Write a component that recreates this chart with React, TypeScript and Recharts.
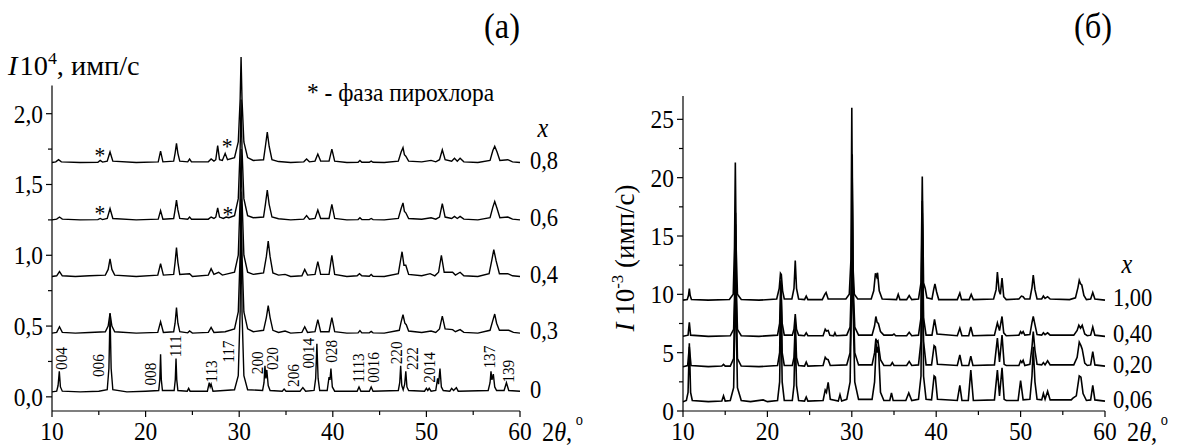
import React from "react";
import { ComposedChart, Line, Scatter, XAxis, YAxis, ReferenceLine } from "recharts";

const FONT = '"Liberation Serif", "DejaVu Serif", "Times New Roman", serif';
const SX = 0.9;

type P = [number, number];
const pts = (a: P[]) => a.map(([x, y]) => ({ x, y }));

// ---- panel (a): I·10^4, counts/s, patterns shifted up
const a0: P[] = [
  [10, 0.035], [10.5, 0.04], [10.65, 0.08], [10.78, 0.18], [10.9, 0.07], [11.1, 0.04], [13, 0.035], [15, 0.04],
  [15.9, 0.05], [16.08, 0.2], [16.2, 0.59], [16.32, 0.2], [16.5, 0.05], [18, 0.035], [20, 0.04],
  [21.4, 0.045], [21.52, 0.12], [21.6, 0.3], [21.68, 0.12], [21.8, 0.045],
  [23.05, 0.045], [23.17, 0.12], [23.25, 0.27], [23.33, 0.12], [23.45, 0.045],
  [24.45, 0.04], [24.6, 0.06], [24.75, 0.04], [26.6, 0.04], [26.8, 0.1], [26.9, 0.07], [27.0, 0.09], [27.2, 0.04],
  [29.5, 0.05], [29.9, 0.15], [30.1, 0.6], [30.2, 1.45], [30.3, 0.6], [30.5, 0.15], [30.9, 0.05],
  [32.5, 0.045], [32.65, 0.1], [32.75, 0.22], [32.85, 0.13], [32.95, 0.19], [33.1, 0.08], [33.3, 0.045],
  [34.6, 0.04], [34.8, 0.055], [35, 0.04], [36.5, 0.04], [36.8, 0.065], [37.1, 0.04],
  [38.0, 0.045], [38.17, 0.13], [38.3, 0.375], [38.43, 0.13], [38.6, 0.045],
  [39.4, 0.045], [39.6, 0.14], [39.7, 0.12], [39.8, 0.2], [39.95, 0.07], [40.2, 0.04],
  [42.6, 0.04], [42.8, 0.07], [43.0, 0.04], [43.9, 0.04], [44.1, 0.07], [44.3, 0.04],
  [47.0, 0.045], [47.15, 0.1], [47.25, 0.22], [47.37, 0.08], [47.52, 0.05], [47.68, 0.09], [47.8, 0.18], [47.92, 0.07], [48.1, 0.045],
  [49.8, 0.04], [50.0, 0.06], [50.15, 0.045], [50.3, 0.06], [50.5, 0.04],
  [51.0, 0.045], [51.2, 0.13], [51.3, 0.09], [51.45, 0.2], [51.6, 0.07], [51.8, 0.045],
  [52.5, 0.04], [52.7, 0.06], [52.9, 0.045], [53.2, 0.065], [53.4, 0.04],
  [56.6, 0.045], [56.8, 0.1], [56.9, 0.18], [57.0, 0.12], [57.15, 0.16], [57.3, 0.07], [57.5, 0.045],
  [58.3, 0.045], [58.55, 0.1], [58.8, 0.045], [60, 0.04],
];
const a03: P[] = [
  [10, 0.45], [10.5, 0.455], [10.8, 0.495], [11.1, 0.455], [12.5, 0.45], [14, 0.455], [15.7, 0.46], [16.0, 0.5], [16.2, 0.59], [16.4, 0.5], [16.7, 0.46],
  [19, 0.45], [21.3, 0.455], [21.6, 0.53], [21.9, 0.455], [23.0, 0.46], [23.15, 0.52], [23.3, 0.63], [23.45, 0.52], [23.65, 0.46],
  [24.5, 0.452], [24.7, 0.465], [25.0, 0.45], [26.7, 0.455], [27.0, 0.49], [27.3, 0.455],
  [28.5, 0.46], [29.5, 0.48], [29.9, 0.6], [30.1, 1.0], [30.2, 1.4], [30.3, 1.0], [30.5, 0.6], [30.9, 0.48], [31.5, 0.46],
  [32.6, 0.47], [32.9, 0.56], [33.1, 0.645], [33.3, 0.56], [33.6, 0.47], [34.2, 0.455], [34.9, 0.465], [35.5, 0.45],
  [36.7, 0.455], [37.0, 0.495], [37.3, 0.455], [38.1, 0.46], [38.4, 0.545], [38.7, 0.46], [39.6, 0.46], [39.9, 0.56], [40.2, 0.46],
  [41.5, 0.45], [42.7, 0.452], [42.9, 0.468], [43.1, 0.452], [43.9, 0.452], [44.1, 0.462], [44.3, 0.452], [45.5, 0.45],
  [47.1, 0.47], [47.3, 0.53], [47.5, 0.58], [47.7, 0.52], [47.85, 0.51], [48.1, 0.465], [49.5, 0.455], [50.5, 0.465], [51.0, 0.455],
  [51.4, 0.48], [51.7, 0.57], [52.0, 0.48], [52.8, 0.475], [53.1, 0.46], [53.6, 0.475], [54.0, 0.455], [55.5, 0.45],
  [56.8, 0.47], [57.1, 0.54], [57.3, 0.585], [57.5, 0.52], [57.8, 0.47], [58.8, 0.47], [59.3, 0.455], [60, 0.45],
];
const a04: P[] = [
  [10, 0.85], [10.5, 0.855], [10.8, 0.885], [11.1, 0.855], [12.5, 0.85], [14, 0.855], [15.7, 0.86], [16.0, 0.9], [16.2, 0.975], [16.4, 0.9], [16.7, 0.86],
  [19, 0.85], [21.3, 0.86], [21.6, 0.94], [21.9, 0.86], [23.0, 0.865], [23.15, 0.95], [23.3, 1.055], [23.45, 0.95], [23.65, 0.865],
  [24.7, 0.87], [25.0, 0.85], [26.7, 0.86], [27.0, 0.905], [27.3, 0.865], [27.8, 0.88], [28.2, 0.86],
  [29.5, 0.88], [29.9, 1.0], [30.1, 1.4], [30.2, 1.75], [30.3, 1.4], [30.5, 1.0], [30.9, 0.88], [31.5, 0.865],
  [32.6, 0.875], [32.9, 0.99], [33.1, 1.1], [33.3, 0.99], [33.6, 0.875], [34.2, 0.86], [34.9, 0.865], [35.5, 0.85],
  [36.7, 0.855], [37.0, 0.9], [37.3, 0.86], [38.1, 0.865], [38.4, 0.955], [38.7, 0.865], [39.6, 0.865], [39.9, 1.0], [40.2, 0.865],
  [41.5, 0.85], [42.6, 0.855], [42.85, 0.87], [43.1, 0.855], [43.9, 0.852], [44.1, 0.865], [44.3, 0.852], [45.5, 0.85],
  [47.0, 0.87], [47.2, 0.95], [47.4, 1.025], [47.6, 0.93], [47.8, 0.93], [48.1, 0.865], [49.5, 0.855], [50.4, 0.87], [50.9, 0.855],
  [51.3, 0.88], [51.6, 1.0], [51.9, 0.88], [52.8, 0.88], [53.1, 0.86], [53.6, 0.88], [54.0, 0.855], [55.5, 0.85],
  [56.7, 0.87], [57.0, 0.97], [57.2, 1.04], [57.45, 0.96], [57.8, 0.87], [58.7, 0.87], [59.2, 0.855], [60, 0.85],
];
const a06: P[] = [
  [10, 1.25], [10.5, 1.255], [10.8, 1.27], [11.1, 1.255], [13, 1.25], [14.9, 1.252], [15.15, 1.26], [15.4, 1.252], [15.9, 1.26], [16.2, 1.33], [16.5, 1.26],
  [19, 1.25], [21.35, 1.255], [21.6, 1.315], [21.85, 1.255], [23.0, 1.26], [23.15, 1.32], [23.3, 1.39], [23.45, 1.32], [23.65, 1.26],
  [24.5, 1.255], [24.7, 1.27], [24.9, 1.255], [26.7, 1.255], [27.0, 1.27], [27.3, 1.26], [27.5, 1.27], [27.7, 1.335], [27.9, 1.27],
  [28.3, 1.26], [28.6, 1.27], [28.9, 1.265], [29.5, 1.28], [29.9, 1.4], [30.1, 1.75], [30.2, 2.1], [30.3, 1.75], [30.5, 1.4], [30.9, 1.28], [31.5, 1.265],
  [32.6, 1.27], [32.8, 1.36], [33.0, 1.46], [33.2, 1.36], [33.5, 1.27], [34.2, 1.258], [35.5, 1.25],
  [36.9, 1.255], [37.2, 1.28], [37.5, 1.255], [38.1, 1.26], [38.4, 1.32], [38.7, 1.26], [39.6, 1.26], [39.9, 1.36], [40.2, 1.26],
  [41.5, 1.25], [42.7, 1.252], [42.9, 1.265], [43.1, 1.252], [43.9, 1.252], [44.1, 1.26], [44.3, 1.252], [45.5, 1.25],
  [47.0, 1.26], [47.3, 1.33], [47.5, 1.37], [47.65, 1.31], [47.8, 1.3], [48.1, 1.26], [49.5, 1.255], [50.5, 1.265], [51.0, 1.255],
  [51.4, 1.27], [51.7, 1.365], [52.0, 1.27], [52.7, 1.26], [53.0, 1.275], [53.3, 1.26], [53.6, 1.275], [54.0, 1.255], [55.5, 1.25],
  [56.8, 1.265], [57.1, 1.34], [57.3, 1.38], [57.55, 1.33], [57.85, 1.265], [58.7, 1.27], [59.2, 1.255], [60, 1.25],
];
const a08: P[] = [
  [10, 1.655], [10.4, 1.66], [10.7, 1.675], [11.0, 1.66], [13, 1.655], [14.9, 1.657], [15.15, 1.67], [15.4, 1.658], [15.9, 1.665], [16.2, 1.73], [16.5, 1.665],
  [19, 1.655], [21.35, 1.66], [21.6, 1.735], [21.85, 1.66], [23.0, 1.665], [23.15, 1.72], [23.3, 1.79], [23.45, 1.72], [23.65, 1.665],
  [24.5, 1.66], [24.7, 1.68], [24.9, 1.66], [26.7, 1.66], [27.0, 1.68], [27.3, 1.665], [27.5, 1.675], [27.7, 1.775], [27.9, 1.675],
  [28.2, 1.67], [28.5, 1.72], [28.75, 1.675], [29.5, 1.69], [29.9, 1.8], [30.1, 2.1], [30.2, 2.4], [30.3, 2.1], [30.5, 1.8], [30.9, 1.69], [31.5, 1.67],
  [32.6, 1.675], [32.8, 1.77], [33.0, 1.87], [33.2, 1.77], [33.5, 1.675], [34.2, 1.662], [35.5, 1.655],
  [36.9, 1.66], [37.2, 1.68], [37.5, 1.66], [38.1, 1.665], [38.4, 1.715], [38.7, 1.665], [39.6, 1.665], [39.9, 1.75], [40.2, 1.665],
  [41.5, 1.655], [42.7, 1.657], [42.9, 1.67], [43.1, 1.657], [43.9, 1.657], [44.1, 1.665], [44.3, 1.657], [45.5, 1.655],
  [47.0, 1.665], [47.3, 1.73], [47.5, 1.76], [47.65, 1.71], [47.8, 1.7], [48.1, 1.665], [49.5, 1.66], [50.5, 1.67], [51.0, 1.66],
  [51.4, 1.675], [51.7, 1.745], [52.0, 1.675], [52.7, 1.665], [53.0, 1.685], [53.3, 1.665], [53.6, 1.685], [54.0, 1.66], [55.5, 1.655],
  [56.8, 1.67], [57.1, 1.74], [57.3, 1.77], [57.55, 1.73], [57.85, 1.67], [58.7, 1.675], [59.2, 1.66], [60, 1.655],
];
const aSeries = [a0, a03, a04, a06, a08];
const aNames = ["0", "0,3", "0,4", "0,6", "0,8"];
const aBase = [0.035, 0.45, 0.85, 1.25, 1.655];

const hklText = ["004", "006", "008", "111", "113", "117", "200", "020", "206", "0014", "028", "1113", "0016", "220", "222", "2014", "137", "139"];
const hklX = [11.1, 15.05, 20.55, 23.3, 27.05, 28.9, 32.0, 33.6, 35.9, 37.45, 39.9, 42.8, 44.4, 46.85, 48.6, 50.4, 56.8, 58.8];
const hklY = [0.19, 0.14, 0.08, 0.28, 0.1, 0.24, 0.16, 0.19, 0.07, 0.2, 0.24, 0.1, 0.1, 0.23, 0.19, 0.1, 0.2, 0.1];

const starX = [15.13, 28.7, 15.13, 28.8];
const starY = [1.73, 1.795, 1.32, 1.315];

// ---- panel (б): I·10^-3, counts/s
const b006: P[] = [
  [10, 0.8], [10.4, 0.9], [10.6, 1.6], [10.75, 5.8], [10.9, 1.6], [11.1, 0.9], [13, 0.8], [14.6, 0.85], [14.8, 1.3], [15.0, 0.85],
  [15.6, 0.9], [16.0, 2], [16.15, 8], [16.22, 15], [16.3, 8], [16.45, 2], [16.9, 0.9], [18, 0.8], [19.5, 0.95], [20, 0.8],
  [21.2, 0.9], [21.45, 2.5], [21.6, 9.5], [21.75, 2.5], [22.0, 0.9], [22.95, 0.9], [23.15, 2.2], [23.3, 7.0], [23.45, 2.2], [23.7, 0.9],
  [24.4, 0.85], [24.6, 1.2], [24.8, 0.85], [26.6, 0.9], [26.85, 1.8], [27.0, 1.6], [27.2, 2.45], [27.45, 1.0],
  [28.4, 0.85], [28.6, 1.4], [28.8, 0.85], [29.4, 1.0], [29.8, 2.5], [29.95, 9], [30.05, 18], [30.15, 9], [30.35, 2.5], [30.8, 1.0],
  [32.4, 1.0], [32.7, 2.5], [32.9, 5.8], [33.05, 5.0], [33.15, 5.5], [33.4, 1.6], [33.8, 0.9], [34.5, 0.9], [34.7, 1.55], [34.9, 0.9],
  [36.4, 0.9], [36.75, 1.55], [37.1, 0.9], [37.9, 1.0], [38.2, 3], [38.35, 16], [38.5, 3], [38.8, 1.0],
  [39.45, 0.95], [39.75, 3.0], [39.9, 2.9], [40.15, 1.0], [42.5, 0.9], [42.8, 2.2], [43.05, 0.9], [43.8, 0.9], [44.1, 3.5], [44.4, 0.9],
  [46.9, 0.95], [47.25, 3.5], [47.5, 1.3], [47.8, 3.7], [48.05, 1.0], [48.3, 0.9], [49.7, 0.9], [50.0, 2.6], [50.3, 0.95],
  [51.1, 1.0], [51.35, 3], [51.5, 5.5], [51.7, 2.5], [51.95, 1.0], [52.5, 0.95], [52.7, 1.5], [52.9, 1.0], [53.2, 1.7], [53.5, 0.95],
  [56.0, 0.95], [56.2, 1.1], [56.6, 1.3], [56.95, 3.0], [57.15, 2.9], [57.4, 1.5], [57.8, 0.9], [58.3, 0.95], [58.55, 2.2], [58.8, 0.95], [60, 0.85],
];
const b020: P[] = [
  [10, 3.8], [10.55, 3.9], [10.75, 5.5], [10.95, 3.9], [13, 3.8], [14.6, 3.85], [14.8, 4.0], [15.0, 3.85],
  [15.6, 3.85], [16.0, 4.5], [16.15, 10], [16.22, 16], [16.3, 10], [16.45, 4.5], [16.9, 3.85], [19, 3.8],
  [21.2, 3.9], [21.45, 5], [21.6, 11.0], [21.75, 5], [22.0, 3.9], [22.95, 3.9], [23.15, 4.6], [23.3, 7.5], [23.45, 4.6], [23.7, 3.9],
  [24.4, 3.85], [24.6, 4.2], [24.8, 3.85], [26.6, 3.9], [26.85, 4.6], [27.0, 4.45], [27.2, 4.4], [27.45, 3.9],
  [29.4, 3.95], [29.8, 5], [29.95, 10], [30.05, 20], [30.15, 10], [30.35, 5], [30.8, 3.95],
  [32.4, 3.95], [32.7, 5], [32.85, 6.2], [33.0, 5.9], [33.1, 6.0], [33.4, 4.4], [33.8, 3.9], [34.6, 3.9], [34.8, 4.15], [35.0, 3.9],
  [36.5, 3.9], [36.8, 4.25], [37.1, 3.9], [37.9, 3.95], [38.2, 6], [38.35, 17], [38.5, 6], [38.8, 3.95],
  [39.45, 3.95], [39.75, 5.6], [39.9, 5.5], [40.15, 4.0], [42.5, 3.9], [42.8, 4.8], [43.05, 3.9], [43.85, 3.9], [44.1, 4.7], [44.35, 3.9],
  [46.9, 3.95], [47.25, 6.25], [47.5, 4.2], [47.8, 6.5], [48.05, 4.0], [48.3, 3.9], [49.8, 3.9], [50.0, 4.3], [50.15, 4.15], [50.3, 4.35], [50.5, 3.9],
  [51.1, 4.0], [51.35, 5.5], [51.5, 6.8], [51.7, 5.2], [51.95, 4.0], [52.5, 3.95], [52.7, 4.15], [52.9, 3.95], [53.2, 4.3], [53.5, 3.95],
  [56.3, 3.95], [56.7, 4.6], [56.95, 5.9], [57.15, 5.6], [57.3, 5.3], [57.6, 4.1], [57.9, 3.9], [58.3, 3.95], [58.55, 5.1], [58.8, 3.95], [60, 3.85],
];
const b040: P[] = [
  [10, 6.4], [10.6, 6.5], [10.75, 7.6], [10.9, 6.5], [13, 6.4], [15.6, 6.45], [16.0, 7], [16.15, 11], [16.22, 17], [16.3, 11], [16.45, 7], [16.9, 6.45],
  [19, 6.4], [21.2, 6.5], [21.45, 7.5], [21.6, 11.2], [21.75, 7.5], [22.0, 6.5], [22.95, 6.5], [23.15, 7.0], [23.3, 8.3], [23.45, 7.0], [23.7, 6.5],
  [24.4, 6.45], [24.6, 6.7], [24.8, 6.45], [26.6, 6.45], [26.85, 7.0], [27.0, 6.85], [27.2, 6.9], [27.4, 6.5], [27.85, 6.45], [28.0, 6.7], [28.15, 6.45],
  [29.4, 6.5], [29.8, 7.2], [29.95, 11], [30.05, 22], [30.15, 11], [30.35, 7.2], [30.8, 6.5],
  [32.4, 6.5], [32.7, 7.3], [32.85, 8.1], [33.0, 7.6], [33.15, 7.5], [33.4, 6.8], [33.8, 6.5], [34.8, 6.5], [35.0, 6.6], [35.2, 6.45],
  [36.5, 6.45], [36.8, 6.75], [37.1, 6.45], [37.9, 6.5], [38.2, 8], [38.35, 18], [38.5, 8], [38.8, 6.5],
  [39.5, 6.5], [39.8, 7.85], [40.1, 6.6], [42.5, 6.45], [42.8, 7.1], [43.05, 6.45], [43.85, 6.45], [44.1, 7.2], [44.35, 6.45],
  [46.9, 6.5], [47.25, 7.55], [47.5, 6.9], [47.8, 8.1], [48.0, 6.7], [48.3, 6.45], [49.8, 6.5], [50.0, 6.8], [50.15, 6.65], [50.3, 6.8], [50.5, 6.5],
  [51.1, 6.55], [51.35, 7.6], [51.5, 8.1], [51.7, 7.4], [51.95, 6.55], [52.5, 6.5], [52.7, 6.7], [52.9, 6.55], [53.2, 6.7], [53.5, 6.5],
  [56.3, 6.5], [56.7, 6.9], [56.9, 7.35], [57.1, 7.1], [57.3, 7.35], [57.6, 6.6], [57.9, 6.45], [58.3, 6.5], [58.55, 7.2], [58.8, 6.5], [60, 6.4],
];
const b100: P[] = [
  [10, 9.5], [10.5, 9.55], [10.65, 9.9], [10.75, 10.5], [10.85, 9.9], [11.0, 9.55], [13, 9.5], [15.5, 9.55],
  [15.95, 10.0], [16.1, 14], [16.2, 21.3], [16.3, 14], [16.45, 10.0], [16.9, 9.55], [19, 9.5],
  [21.1, 9.6], [21.4, 10.5], [21.55, 11.8], [21.65, 11.7], [21.8, 10.3], [22.0, 9.6], [22.9, 9.6], [23.15, 10.5], [23.3, 12.9], [23.45, 10.5], [23.7, 9.6],
  [24.4, 9.55], [24.6, 9.85], [24.8, 9.55], [26.5, 9.55], [26.8, 10.0], [26.95, 10.15], [27.2, 9.6],
  [29.3, 9.6], [29.7, 10.0], [29.9, 13], [30.0, 26.0], [30.1, 13], [30.3, 10.0], [30.7, 9.6],
  [32.3, 9.6], [32.6, 10.3], [32.8, 11.8], [32.95, 11.5], [33.05, 11.85], [33.25, 10.3], [33.6, 9.6], [35.3, 9.55], [35.5, 10.0], [35.7, 9.55],
  [36.5, 9.55], [36.8, 9.9], [37.1, 9.55], [37.9, 9.6], [38.2, 11], [38.35, 20.1], [38.5, 11], [38.7, 10.5], [38.9, 9.7],
  [39.5, 9.6], [39.7, 10.4], [39.85, 10.9], [40.05, 10.2], [40.3, 9.55], [42.5, 9.55], [42.8, 10.1], [43.0, 9.55], [43.9, 9.55], [44.15, 10.0], [44.4, 9.55],
  [46.8, 9.6], [47.1, 10.4], [47.25, 11.9], [47.45, 10.3], [47.6, 10.0], [47.8, 11.4], [48.0, 9.8], [48.3, 9.55],
  [49.8, 9.6], [50.1, 9.85], [50.3, 9.8], [50.5, 9.6], [51.1, 9.6], [51.35, 10.6], [51.5, 11.65], [51.7, 10.4], [51.95, 9.6],
  [52.5, 9.6], [52.7, 9.85], [52.9, 9.65], [53.2, 9.8], [53.5, 9.6], [55.8, 9.55], [56.5, 9.7], [56.8, 10.6], [56.95, 11.2], [57.1, 10.9], [57.25, 10.8], [57.5, 9.9], [57.8, 9.55],
  [58.3, 9.6], [58.55, 10.15], [58.8, 9.6], [60, 9.5],
];
const bSeries = [b006, b020, b040, b100];
const bNames = ["0,06", "0,20", "0,40", "1,00"];
const bBase = [0.8, 3.8, 6.4, 9.5];

const xTicks = [10, 15, 20, 25, 30, 35, 40, 45, 50, 55, 60];
const aYTicks = [0, 0.25, 0.5, 0.75, 1, 1.25, 1.5, 1.75, 2];
const bYTicks = [0, 2.5, 5, 7.5, 10, 12.5, 15, 17.5, 20, 22.5, 25];

const hklData = hklText.map((t, i) => ({ x: hklX[i], y: hklY[i], t }));
const starData = starX.map((x, i) => ({ x, y: starY[i] }));
const aNameData = aNames.map((t, i) => ({ x: 60, y: aBase[i], t }));
const bNameData = bNames.map((t, i) => ({ x: 60, y: bBase[i], t }));

const txt = (x: number, y: number, size: number, anchor: string, s: React.ReactNode, rot = 0, italic = false, sx = SX) => (
  <text
    transform={`translate(${x},${y}) rotate(${rot}) scale(${sx},1)`}
    fontSize={size}
    fontFamily={FONT}
    style={{ fontFamily: FONT }}
    fontStyle={italic ? "italic" : "normal"}
    textAnchor={anchor as any}
    fill="#000"
  >
    {s}
  </text>
);

const xTick = (p: any) => {
  const v = p.payload.value;
  const ay = p.y - 10;
  const major = v % 10 === 0;
  return (
    <g>
      <line x1={p.x} x2={p.x} y1={ay} y2={ay + (major ? 6 : 4)} stroke="#000" strokeWidth={1.2} />
      {major && txt(p.x, ay + 29, 26, "middle", String(v))}
    </g>
  );
};

const yTick = (fmt: (v: number) => string | null) => (p: any) => {
  const v = p.payload.value;
  const ax = p.x + 10;
  const lab = fmt(v);
  return (
    <g>
      <line x1={ax - (lab ? 6 : 4)} x2={ax} y1={p.y} y2={p.y} stroke="#000" strokeWidth={1.2} />
      {lab && txt(ax - 9, p.y + 9, 26, "end", lab)}
    </g>
  );
};
const aFmt = (v: number) => (Math.abs(v * 2 - Math.round(v * 2)) < 1e-6 ? v.toFixed(1).replace(".", ",") : null);
const bFmt = (v: number) => (v % 5 === 0 ? String(v) : null);

export default function App() {
  return (
    <div style={{ position: "absolute", left: 0, top: 0, width: 1181, height: 446, background: "#fff" }}>
      <div style={{ position: "absolute", left: 0, top: 0 }}>
        <ComposedChart width={601} height={446} margin={{ top: 50, right: 81, bottom: 34, left: 51 }}>
          <XAxis dataKey="x" type="number" domain={[10, 60]} ticks={xTicks} interval={0} height={1}
            tickSize={6} tickMargin={4} tickLine={false} stroke="#000" strokeWidth={1.2} tick={xTick} />
          <YAxis type="number" domain={[-0.1, 2.45]} ticks={aYTicks} interval={0} width={1}
            tickSize={6} tickMargin={4} tickLine={false} axisLine={false} tick={yTick(aFmt)} />
          <ReferenceLine segment={[{ x: 10, y: -0.1 }, { x: 10, y: 2.2 }]} stroke="#000" strokeWidth={1.2} />
          {aSeries.map((s, i) => (
            <Line key={aNames[i]} data={pts(s)} dataKey="y" type="linear" dot={false} activeDot={false}
              stroke="#000" strokeWidth={1.4} isAnimationActive={false} />
          ))}
          <Scatter data={hklData} dataKey="y" isAnimationActive={false}
            shape={(p: any) => txt(p.cx + 5, p.cy, 17, "start", p.payload.t, -90) as any} />
          <Scatter data={starData} dataKey="y" isAnimationActive={false}
            shape={(p: any) => txt(p.cx, p.cy + 11, 24, "middle", "*") as any} />
          <Scatter data={aNameData} dataKey="y" isAnimationActive={false}
            shape={(p: any) => txt(p.cx + 10, p.cy + 6, 25, "start", p.payload.t) as any} />
        </ComposedChart>
      </div>
      <div style={{ position: "absolute", left: 0, top: 0 }}>
        <ComposedChart width={1181} height={446} margin={{ top: 96, right: 76, bottom: 34, left: 682 }}>
          <XAxis dataKey="x" type="number" domain={[10, 60]} ticks={xTicks} interval={0} height={1}
            tickSize={6} tickMargin={4} tickLine={false} stroke="#000" strokeWidth={1.2} tick={xTick} />
          <YAxis type="number" domain={[0, 27]} ticks={bYTicks} interval={0} width={1}
            tickSize={6} tickMargin={4} tickLine={false} stroke="#000" strokeWidth={1.2} tick={yTick(bFmt)} />
          {bSeries.map((s, i) => (
            <Line key={bNames[i]} data={pts(s)} dataKey="y" type="linear" dot={false} activeDot={false}
              stroke="#000" strokeWidth={1.6} isAnimationActive={false} />
          ))}
          <Scatter data={bNameData} dataKey="y" isAnimationActive={false}
            shape={(p: any) => txt(p.cx + 8, p.cy + 6, 25, "start", p.payload.t) as any} />
        </ComposedChart>
      </div>
      <svg width={1181} height={446} style={{ position: "absolute", left: 0, top: 0, pointerEvents: "none" }}>
        {txt(502, 38, 36, "middle", "(a)")}
        {txt(1093, 38, 36, "middle", "(б)")}
        {txt(8, 75, 27, "start", (
          <>
            <tspan fontStyle="italic">I</tspan><tspan dx={2}>10</tspan><tspan fontSize={17} dy={-11}>4</tspan>
            <tspan dy={11}>, имп/с</tspan>
          </>
        ), 0, false, 1.05)}
        {txt(307, 101, 26, "start", "* - фаза пирохлора")}
        {txt(543, 137, 27, "middle", "x", 0, true)}
        {txt(1127, 273, 27, "middle", "x", 0, true)}
        {txt(542, 441, 27, "start", (
          <>
            2<tspan fontStyle="italic">θ</tspan>,<tspan fontSize={16} dy={-16}> o</tspan>
          </>
        ))}
        {txt(1127, 441, 27, "start", (
          <>
            2<tspan fontStyle="italic">θ</tspan>,<tspan fontSize={16} dy={-16}> o</tspan>
          </>
        ))}
        {txt(634, 258, 27, "middle", (
          <>
            <tspan fontStyle="italic">I</tspan> 10<tspan fontSize={17} dy={-11}>-3</tspan>
            <tspan dy={11}> (имп/с)</tspan>
          </>
        ), -90, false, 1)}
      </svg>
    </div>
  );
}
